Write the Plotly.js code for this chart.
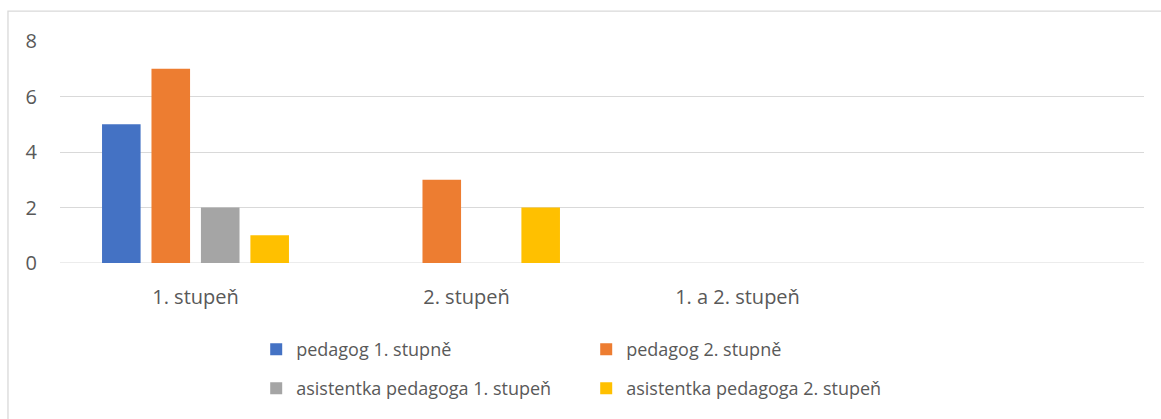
<!DOCTYPE html>
<html><head><meta charset="utf-8">
<script src="https://cdn.plot.ly/plotly-3.0.1.min.js"></script>
<style>html,body{margin:0;padding:0;background:#fff}</style>
</head><body>
<div id="chart" style="width:1161px;height:419px"></div>
<script>
const categories = ["1. stupeň", "2. stupeň", "1. a 2. stupeň"];
const seriesNames = ["pedagog 1. stupně", "pedagog 2. stupně", "asistentka pedagoga 1. stupeň", "asistentka pedagoga 2. stupeň"];
const pedagog1 = [5, null, null];
const pedagog2 = [7, 3, null];
const asistentka1 = [2, null, null];
const asistentka2 = [1, 2, null];
const colors = ["#4472C4", "#ED7D31", "#A5A5A5", "#FFC000"];
const yTicks = [0, 2, 4, 6, 8];

const values = [pedagog1, pedagog2, asistentka1, asistentka2];
const legends = ["legend", "legend", "legend2", "legend2"];
const FONT = "Open Sans, sans-serif";
const traces = values.map((v, i) => ({
  type: "bar", x: categories, y: v, name: seriesNames[i],
  marker: {color: colors[i]}, legend: legends[i], hoverinfo: "none"
}));

const legendCommon = {
  orientation: "h", xanchor: "left", yanchor: "middle",
  font: {family: FONT, size: 18, color: "#595959"},
  entrywidth: 285, entrywidthmode: "pixels", bgcolor: "rgba(0,0,0,0)"
};

const layout = {
  width: 1161, height: 419,
  margin: {l: 60, r: 17, t: 41, b: 156},
  paper_bgcolor: "#fff", plot_bgcolor: "#fff",
  barmode: "group", bargap: 0.27, bargroupgap: 0.22,
  font: {family: FONT, size: 20, color: "#595959"},
  xaxis: {
    type: "category", range: [-0.5, 3.5], showgrid: false, zeroline: false,
    showline: false, ticks: "outside", ticklen: 16, tickcolor: "rgba(0,0,0,0)",
    tickfont: {family: FONT, size: 20, color: "#595959"}, fixedrange: true
  },
  yaxis: {
    range: [0, 8], tickvals: yTicks, ticktext: yTicks.map(String),
    showgrid: true, gridcolor: "#d9d9d9", gridwidth: 1, zeroline: false,
    showline: false, ticks: "outside", ticklen: 18, tickcolor: "rgba(0,0,0,0)",
    tickfont: {family: FONT, size: 20, color: "#595959"}, fixedrange: true
  },
  showlegend: true,
  legend: Object.assign({}, legendCommon, {x: 0.181, y: -0.39}),
  legend2: Object.assign({}, legendCommon, {x: 0.181, y: -0.565}),
  shapes: [
    {type: "rect", xref: "paper", yref: "paper", x0: -0.048, x1: 1.2, y0: -1.0, y1: 1.135,
     line: {color: "#d9d9d9", width: 1.3}, fillcolor: "rgba(0,0,0,0)", layer: "below"},
    {type: "line", xref: "paper", yref: "y", x0: 0, x1: 1, y0: 0, y1: 0,
     line: {color: "#d9d9d9", width: 1}, layer: "below"}
  ]
};

Plotly.newPlot("chart", traces, layout, {displayModeBar: false, staticPlot: true});
</script>
</body></html>
